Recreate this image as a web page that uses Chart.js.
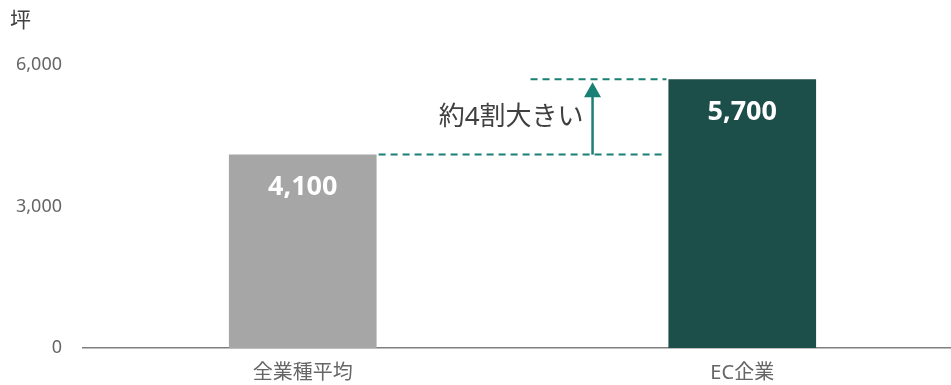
<!DOCTYPE html>
<html>
<head>
<meta charset="utf-8">
<script src="https://cdn.jsdelivr.net/npm/chart.js@4"></script>
<style>
    html, body { margin: 0; padding: 0; background: #fff; overflow: hidden; }
    #wrap { position: relative; width: 962px; height: 385px; }
    #unit {
        position: absolute; left: 10px; top: 3px;
        font: 21px "Noto Sans CJK JP", sans-serif; color: #404040;
    }
</style>
</head>
<body>
<div id="wrap">
    <canvas id="chartMenseki"></canvas>
    <div id="unit">坪</div>
</div>
<script>
// Data
const kategori = ["全業種平均", "EC企業"];
const nilaiLuas = [4100, 5700];
const warnaBar = ["#a6a6a6", "#1c4e4a"];
const tickNilai = [0, 3000, 6000];
const teksSelisih = "約4割大きい";

const fontUI = "'Noto Sans', 'Noto Sans CJK JP', sans-serif";

// Label di dalam bar + garis putus-putus dan panah
const anotasiPlugin = {
    id: "anotasi",
    afterDatasetsDraw(chart) {
        const ctx = chart.ctx;
        const meta = chart.getDatasetMeta(0);
        const y = chart.scales.y;

        // angka di dalam bar
        ctx.save();
        ctx.fillStyle = "#ffffff";
        ctx.font = "bold 27px " + fontUI;
        ctx.textAlign = "center";
        ctx.textBaseline = "middle";
        meta.data.forEach((bar, i) => {
            ctx.fillText(nilaiLuas[i].toLocaleString("en-US"), bar.x, bar.y + 33);
        });
        ctx.restore();

        const b0 = meta.data[0];
        const b1 = meta.data[1];
        const kanan0 = b0.x + b0.width / 2;
        const kiri1 = b1.x - b1.width / 2;
        const yBawah = y.getPixelForValue(nilaiLuas[0]);
        const yAtas = y.getPixelForValue(nilaiLuas[1]);
        const xPanah = kanan0 + (kiri1 - kanan0) * 0.74;

        ctx.save();
        ctx.strokeStyle = "#1a7f74";
        ctx.lineWidth = 2;
        ctx.setLineDash([7, 5]);
        ctx.beginPath();
        ctx.moveTo(kanan0 + 2, yBawah);
        ctx.lineTo(kiri1 - 2, yBawah);
        ctx.moveTo(xPanah - 62, yAtas);
        ctx.lineTo(kiri1 - 2, yAtas);
        ctx.stroke();

        // panah
        ctx.setLineDash([]);
        ctx.lineWidth = 2.5;
        ctx.beginPath();
        ctx.moveTo(xPanah, yBawah);
        ctx.lineTo(xPanah, yAtas + 14);
        ctx.stroke();
        ctx.fillStyle = "#1a7f74";
        ctx.beginPath();
        ctx.moveTo(xPanah, yAtas + 3);
        ctx.lineTo(xPanah - 8.5, yAtas + 18);
        ctx.lineTo(xPanah + 8.5, yAtas + 18);
        ctx.closePath();
        ctx.fill();

        // teks
        ctx.fillStyle = "#404040";
        ctx.font = "26px " + fontUI;
        ctx.textAlign = "right";
        ctx.textBaseline = "middle";
        ctx.fillText(teksSelisih, xPanah - 9, (yAtas + yBawah) / 2 + 1);
        ctx.restore();
    },
};

new Chart(document.getElementById("chartMenseki"), {
    type: "bar",
    data: {
        labels: kategori,
        datasets: [
            {
                data: nilaiLuas,
                backgroundColor: warnaBar,
                borderWidth: 0,
                categoryPercentage: 1,
                barPercentage: 0.336,
            },
        ],
    },
    options: {
        responsive: true,
        maintainAspectRatio: false,
        animation: false,
        layout: { padding: { top: 65, right: 0, left: 0, bottom: 0 } },
        plugins: {
            legend: { display: false },
            tooltip: { enabled: false },
        },
        scales: {
            y: {
                min: 0,
                max: 6000,
                afterBuildTicks: (axis) => {
                    axis.ticks = tickNilai.map((v) => ({ value: v }));
                },
                afterFit: (axis) => {
                    axis.width = 83;
                },
                grid: { display: false, drawTicks: false },
                border: { display: false },
                ticks: {
                    padding: 21,
                    color: "#666666",
                    font: { family: fontUI, size: 18 },
                    callback: (value) => value.toLocaleString("en-US"),
                },
            },
            x: {
                afterFit: (axis) => {
                    axis.height = 37;
                },
                grid: { display: false, drawTicks: false },
                border: { display: true, color: "#7f7f7f", width: 1.5 },
                ticks: {
                    padding: 13,
                    color: "#666666",
                    font: { family: fontUI, size: 20 },
                },
            },
        },
    },
    plugins: [anotasiPlugin],
});
</script>
</body>
</html>
